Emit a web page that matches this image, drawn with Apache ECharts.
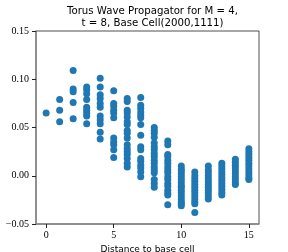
<!DOCTYPE html>
<html><head><meta charset="utf-8">
<script src="https://cdn.jsdelivr.net/npm/echarts@6/dist/echarts.min.js"></script>
<style>html,body{margin:0;padding:0;background:#fff}#c{width:288px;height:252px}</style>
</head><body><div id="c"></div>
<script>
const titleText = "Torus Wave Propagator for M = 4,\nt = 8, Base Cell(2000,1111)";
const xLabel = "Distance to base cell";
const xTicks = [0, 5, 10, 15];
const yTicks = [-0.05, 0.00, 0.05, 0.10, 0.15];
const distances = [0,1,2,3,4,5,6,7,8,9,10,11,12,13,14,15];
const d0 = [0.065];
const d1 = [0.079, 0.068, 0.056];
const d2 = [0.109, 0.090, 0.087, 0.076, 0.059];
const d3 = [0.092, 0.089, 0.085, 0.079, 0.071, 0.068, 0.065, 0.062, 0.054];
const d4 = [0.101, 0.092, 0.084, 0.080, 0.075, 0.071, 0.062, 0.058, 0.054, 0.045, 0.038];
const d5 = [0.088, 0.075, 0.072, 0.068, 0.065, 0.060, 0.039, 0.035, 0.032, 0.027, 0.019];
const d6 = [0.080, 0.077, 0.068, 0.065, 0.061, 0.056, 0.053, 0.047, 0.044, 0.039, 0.032, 0.028, 0.025, 0.022, 0.018, 0.013, 0.009];
const d7 = [0.081, 0.073, 0.070, 0.066, 0.063, 0.060, 0.053, 0.042, 0.030, 0.027, 0.018, 0.015, 0.011, 0.008, 0.004, -0.001];
const d8 = [0.050, 0.047, 0.044, 0.040, 0.034, 0.030, 0.027, 0.023, 0.020, 0.016, 0.013, 0.009, 0.006, 0.003, -0.004, -0.008, -0.012];
const d9 = [0.036, 0.032, 0.022, 0.020, 0.016, 0.013, 0.009, 0.006, 0.003, -0.001, -0.004, -0.008, -0.011, -0.015, -0.018, -0.020, -0.030];
const d10 = [0.010, 0.007, 0.005, 0.002, -0.001, -0.004, -0.007, -0.010, -0.012, -0.015, -0.018, -0.021, -0.024, -0.027, -0.029, -0.031];
const d11 = [0.004, 0.000, -0.003, -0.006, -0.009, -0.012, -0.015, -0.018, -0.021, -0.024, -0.027, -0.029, -0.038];
const d12 = [0.010, 0.006, 0.003, 0.000, -0.003, -0.006, -0.009, -0.012, -0.015, -0.018, -0.021, -0.024];
const d13 = [0.013, 0.010, 0.007, 0.004, 0.001, -0.002, -0.005, -0.008, -0.011, -0.014, -0.017, -0.020];
const d14 = [0.017, 0.014, 0.011, 0.008, 0.005, 0.002, -0.001, -0.004, -0.007, -0.009];
const d15 = [0.028, 0.025, 0.022, 0.019, 0.016, 0.013, 0.010, 0.007, 0.004, 0.001, -0.002, -0.004];
const columns = [d0,d1,d2,d3,d4,d5,d6,d7,d8,d9,d10,d11,d12,d13,d14,d15];

const points = [];
distances.forEach((d, i) => columns[i].forEach(v => points.push([d, v])));

const chart = echarts.init(document.getElementById('c'), null, {renderer: 'canvas'});
const serif = 'Liberation Serif';
chart.setOption({
  animation: false,
  title: {
    text: titleText, left: 147.5, textAlign: 'center', top: 1,
    textStyle: {fontFamily: 'DejaVu Sans', fontSize: 10.2, fontWeight: 'normal', color: '#000', lineHeight: 11.5}
  },
  grid: {left: 36, right: 29, top: 31, bottom: 28, show: true, borderColor: '#222', borderWidth: 0.8,
         containLabel: false, outerBoundsMode: 'none'},
  xAxis: {
    type: 'value', min: -0.75, max: 15.75,
    name: xLabel, nameLocation: 'middle', nameGap: 16,
    nameTextStyle: {fontFamily: 'DejaVu Sans', fontSize: 9, color: '#000'},
    splitLine: {show: false},
    axisLine: {show: true, onZero: false, lineStyle: {color: '#888', width: 1.5}},
    axisTick: {show: true, length: 4, customValues: xTicks, lineStyle: {color: '#222'}},
    axisLabel: {customValues: xTicks, fontFamily: serif, fontSize: 10, color: '#000', margin: 6}
  },
  yAxis: {
    type: 'value', min: -0.05, max: 0.15, interval: 0.05,
    splitLine: {show: false},
    axisLine: {show: true, onZero: false, lineStyle: {color: '#888', width: 1.5}},
    axisTick: {show: true, length: 4, lineStyle: {color: '#222'}},
    axisLabel: {fontFamily: serif, fontSize: 10, color: '#000', margin: 7,
      formatter: v => { const t = v.toFixed(2); return t.startsWith('-') ? '\u2212' + t.slice(1) : t; }}
  },
  series: [{
    type: 'scatter', data: points, symbolSize: 7,
    itemStyle: {color: '#1f77b4', opacity: 1}
  }]
});
</script></body></html>
